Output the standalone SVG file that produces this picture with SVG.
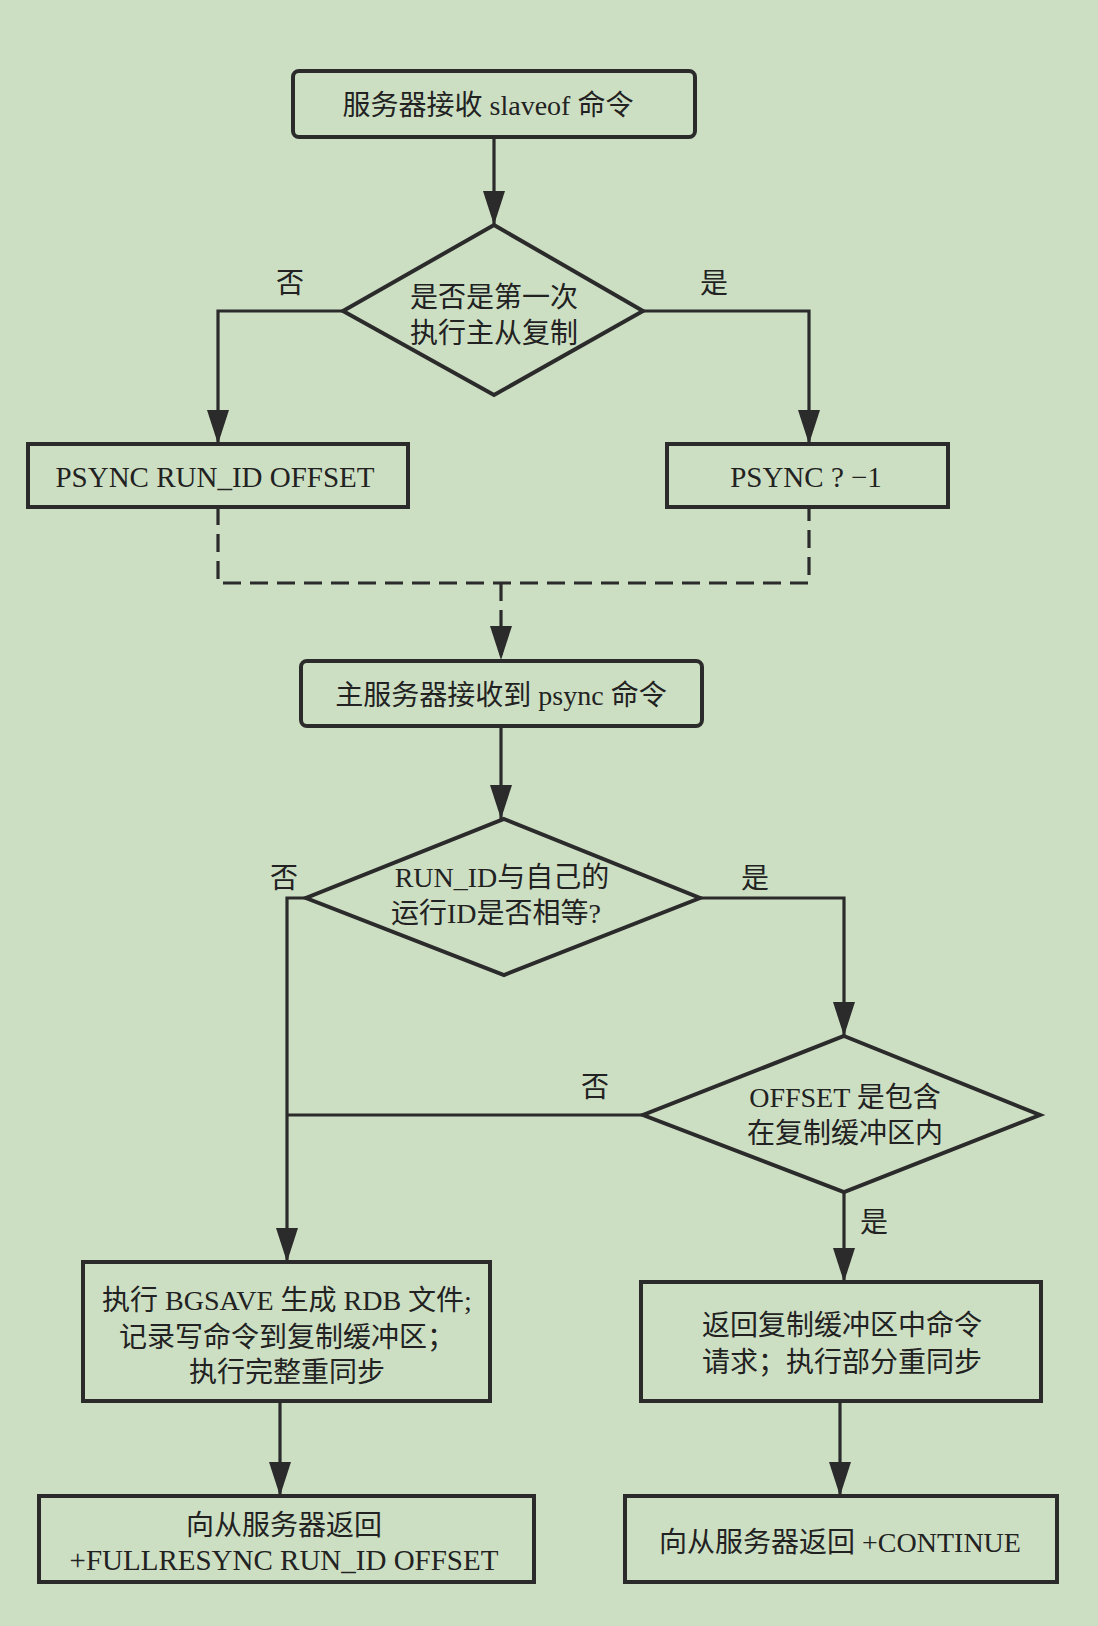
<svg xmlns="http://www.w3.org/2000/svg" width="1098" height="1626" viewBox="0 0 1098 1626">
<style>
.bg{fill:#cddfc3}
.box{fill:none;stroke:#2b2b2b;stroke-width:4}
.ln{fill:none;stroke:#2b2b2b;stroke-width:3.2}
.dash{stroke-dasharray:18 9}
text{font-family:"Liberation Serif","Noto Sans CJK SC",serif;font-size:28px;fill:#222;text-anchor:middle;dominant-baseline:central}
.lat{font-size:29px}
</style>
<defs>
<marker id="ah" viewBox="0 0 34 22" markerUnits="userSpaceOnUse" markerWidth="34" markerHeight="22" refX="34" refY="11" orient="auto">
<path d="M0,0 L34,11 L0,22 z" fill="#2b2b2b"/>
</marker>
</defs>
<rect class="bg" x="0" y="0" width="1098" height="1626"/>
<g id="connectors">
<path class="ln" d="M494,137 V225" marker-end="url(#ah)"/>
<path class="ln" d="M343,311 H218 V444" marker-end="url(#ah)"/>
<path class="ln" d="M643,311 H809 V444" marker-end="url(#ah)"/>
<path class="ln dash" d="M218,507 V583 H809 V507"/>
<path class="ln dash" d="M501,583 V660" marker-end="url(#ah)"/>
<path class="ln" d="M501,726 V819" marker-end="url(#ah)"/>
<path class="ln" d="M306,898 H287 V1262" marker-end="url(#ah)"/>
<path class="ln" d="M700,898 H844 V1036" marker-end="url(#ah)"/>
<path class="ln" d="M643,1115 H287"/>
<path class="ln" d="M844,1192 V1282" marker-end="url(#ah)"/>
<path class="ln" d="M280,1401 V1496" marker-end="url(#ah)"/>
<path class="ln" d="M840,1401 V1496" marker-end="url(#ah)"/>
<text x="290" y="283">否</text>
<text x="714" y="283">是</text>
<text x="284" y="878">否</text>
<text x="755" y="878">是</text>
<text x="595" y="1087">否</text>
<text x="874" y="1222">是</text>
</g>
<g id="start">
<rect class="box" x="293" y="71" width="402" height="66" rx="6"/>
<text x="488" y="105">服务器接收 slaveof 命令</text>
</g>
<g id="first">
<polygon class="box" points="494,225 643,311 494,395 343,311"/>
<text x="494" y="297">是否是第一次</text>
<text x="494" y="333">执行主从复制</text>
</g>
<g id="psync-runid">
<rect class="box" x="28" y="444" width="380" height="63"/>
<text class="lat" x="215" y="477">PSYNC RUN_ID OFFSET</text>
</g>
<g id="psync-first">
<rect class="box" x="667" y="444" width="281" height="63"/>
<text class="lat" x="806" y="477">PSYNC ? −1</text>
</g>
<g id="master">
<rect class="box" x="301" y="661" width="401" height="65" rx="6"/>
<text x="501" y="695">主服务器接收到 psync 命令</text>
</g>
<g id="runid-eq">
<polygon class="box" points="504,819 700,898 504,975 306,898"/>
<text x="502" y="877">RUN_ID与自己的</text>
<text x="496" y="913">运行ID是否相等?</text>
</g>
<g id="offset">
<polygon class="box" points="844,1036 1040,1115 844,1192 643,1115"/>
<text x="845" y="1097">OFFSET 是包含</text>
<text x="845" y="1133">在复制缓冲区内</text>
</g>
<g id="full">
<rect class="box" x="83" y="1262" width="407" height="139"/>
<text x="287" y="1300">执行 BGSAVE 生成 RDB 文件;</text>
<text x="287" y="1337">记录写命令到复制缓冲区；</text>
<text x="287" y="1372">执行完整重同步</text>
</g>
<g id="partial">
<rect class="box" x="641" y="1282" width="400" height="119"/>
<text x="842" y="1325">返回复制缓冲区中命令</text>
<text x="842" y="1362">请求；执行部分重同步</text>
</g>
<g id="fullresync">
<rect class="box" x="39" y="1496" width="495" height="86"/>
<text x="284" y="1525">向从服务器返回</text>
<text class="lat" x="284" y="1560">+FULLRESYNC RUN_ID OFFSET</text>
</g>
<g id="continue">
<rect class="box" x="625" y="1496" width="432" height="86"/>
<text x="840" y="1542">向从服务器返回 +CONTINUE</text>
</g>
</svg>
